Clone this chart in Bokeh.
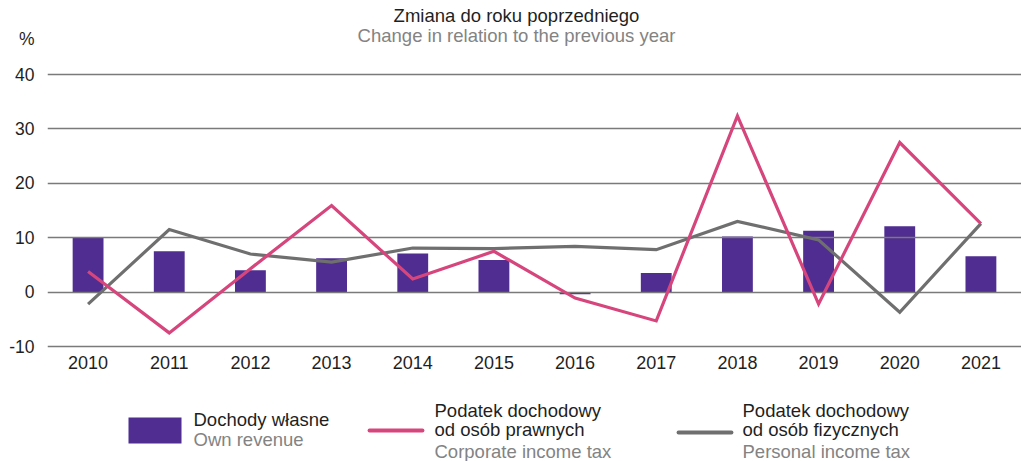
from bokeh.plotting import figure
from bokeh.models import Range1d, FactorRange, FixedTicker
from bokeh.layouts import column
from bokeh.core.properties import value
from bokeh.embed import file_html
from bokeh.resources import INLINE

# ---- data ----
years = ["2010", "2011", "2012", "2013", "2014", "2015",
         "2016", "2017", "2018", "2019", "2020", "2021"]
own_revenue = [10.0, 7.5, 4.0, 6.2, 7.1, 5.9, -0.4, 3.5, 10.2, 11.3, 12.1, 6.6]
corporate_tax = [3.8, -7.5, 4.3, 15.9, 2.4, 7.5, -1.1, -5.3, 32.4, -2.2, 27.5, 12.6]
personal_tax = [-2.2, 11.5, 7.0, 5.5, 8.1, 8.0, 8.4, 7.8, 13.0, 9.6, -3.7, 12.6]
y_ticks = [-10, 0, 10, 20, 30, 40]

title_pl = "Zmiana do roku poprzedniego"
title_en = "Change in relation to the previous year"
unit_label = "%"
legend_pl = [["Dochody własne"],
             ["Podatek dochodowy", "od osób prawnych"],
             ["Podatek dochodowy", "od osób fizycznych"]]
legend_en = ["Own revenue", "Corporate income tax", "Personal income tax"]

# ---- styles / layout (page pixels) ----
FONT = value("Liberation Sans")
PURPLE = "#4F2D91"
PINK = "#D6467D"
GRAY = "#6F6F6F"
DARK = "#1f1f1f"
LIGHT = "#838383"
W = 1021
LEFT = 47            # frame left edge
TOP40, BOT10 = 74, 346   # page y of the 40 and -10 gridlines
FRAME_BOTTOM = 348
MAIN_H = 395
TXT_SHIFT = 6        # svg text baseline correction
k = (BOT10 - TOP40) / 50.0          # px per unit
cat_w = (W - LEFT) / len(years)

y_end = 40 + TOP40 / k
y_start = -10 - (FRAME_BOTTOM - BOT10) / k
unit_tick = 46.5


def Yd(py):
    return 40 + (TOP40 - (py - TXT_SHIFT)) / k


def Xd(px):
    return (px - LEFT) / cat_w


def Yl(py):
    return py - TXT_SHIFT


p = figure(width=W, height=MAIN_H, x_range=FactorRange(*years),
           y_range=Range1d(y_start, y_end), toolbar_location=None, output_backend="svg",
           title=None, min_border_left=LEFT, min_border_right=0, min_border_top=0,
           min_border_bottom=MAIN_H - FRAME_BOTTOM, outline_line_color=None)

p.yaxis.ticker = FixedTicker(ticks=y_ticks + [unit_tick])
p.ygrid.ticker = FixedTicker(ticks=y_ticks)
p.yaxis.major_label_overrides = {-10: "-10", unit_tick: unit_label}
p.xgrid.visible = False
p.ygrid.grid_line_color = "#7a7a7a"
p.ygrid.grid_line_width = 1.4

for ax in (p.xaxis, p.yaxis):
    ax.axis_line_color = None
    ax.major_tick_line_color = None
    ax.minor_tick_line_color = None
    ax.major_tick_in = 0
    ax.major_tick_out = 0
    ax.major_label_text_font = "Liberation Sans"
    ax.major_label_text_color = DARK
p.yaxis.major_label_text_font_size = "17.5px"
p.xaxis.major_label_text_font_size = "18px"
p.yaxis.major_label_standoff = 13
p.xaxis.major_label_standoff = 7

p.vbar(x=years, top=own_revenue, bottom=0, width=0.38, fill_color=PURPLE,
       line_color=None, level="image")
p.line(x=years, y=personal_tax, line_color=GRAY, line_width=3.2, line_join="miter")
p.line(x=years, y=corporate_tax, line_color=PINK, line_width=3.2, line_join="miter")

# header texts (inside the frame, above the 40 line)
hdr = dict(text_font=FONT, text_font_size="18.5px", text_align="center",
           text_baseline="alphabetic")
p.text(x=[Xd(516)], y=[Yd(21)], text=[title_pl], text_color=DARK, **hdr)
p.text(x=[Xd(516)], y=[Yd(41)], text=[title_en], text_color=LIGHT, **hdr)

# ---- legend figure ----
LG_TOP = MAIN_H
lg = figure(width=W, height=461 - LG_TOP, x_range=Range1d(LEFT, W),
            y_range=Range1d(461, LG_TOP), toolbar_location=None, output_backend="svg",
            x_axis_type=None, y_axis_type=None, title=None, min_border_left=LEFT,
            min_border_right=0, min_border_top=0, min_border_bottom=0,
            outline_line_color=None)
lg.quad(left=[128], right=[181], top=[417], bottom=[443], fill_color=PURPLE, line_color=None)
lg.line(x=[369, 422], y=[430, 430], line_color=PINK, line_width=3.8, line_cap="round")
lg.line(x=[678, 731], y=[432, 432], line_color=GRAY, line_width=3.8, line_cap="round")

txt = dict(text_font=FONT, text_font_size="18.5px", text_align="left",
           text_baseline="alphabetic")
lg.text(x=[193], y=[Yl(425)], text=legend_pl[0], text_color=DARK, **txt)
lg.text(x=[193], y=[Yl(445)], text=[legend_en[0]], text_color=LIGHT, **txt)
lg.text(x=[434, 434], y=[Yl(416), Yl(435)], text=legend_pl[1], text_color=DARK, **txt)
lg.text(x=[434], y=[Yl(457)], text=[legend_en[1]], text_color=LIGHT, **txt)
lg.text(x=[742, 742], y=[Yl(416), Yl(435)], text=legend_pl[2], text_color=DARK, **txt)
lg.text(x=[742], y=[Yl(457)], text=[legend_en[2]], text_color=LIGHT, **txt)

layout = column(p, lg, spacing=0)
open("out.html", "w").write(file_html(layout, INLINE))
